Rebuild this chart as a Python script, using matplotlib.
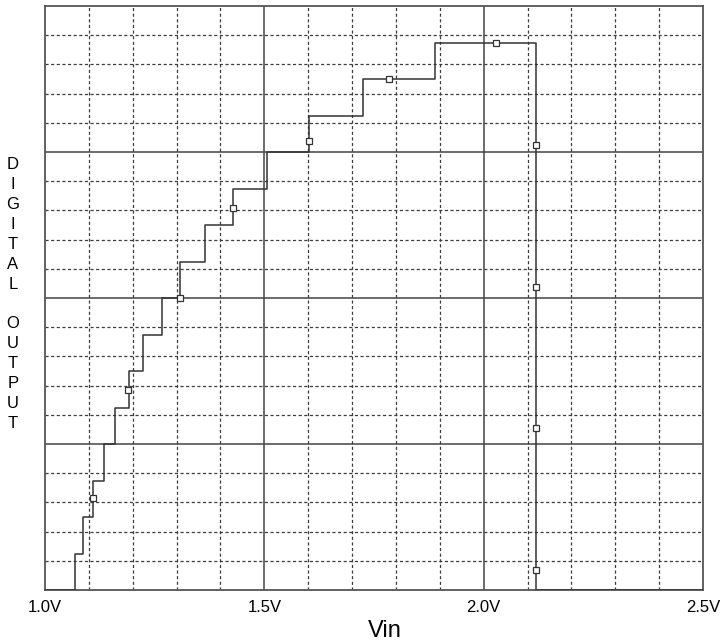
import matplotlib
matplotlib.use("Agg")
import matplotlib.pyplot as plt
import numpy as np

# ADC transfer curve: code steps vs input voltage
vin_steps = [1.0, 1.0683, 1.0872, 1.1093, 1.1336, 1.1600, 1.1912, 1.2242,
             1.2656, 1.3073, 1.3642, 1.4286, 1.5053, 1.6021, 1.7255,
             1.8900, 2.1188, 2.5]
codes = [0, 1, 2, 3, 4, 5, 6, 7, 8, 9, 10, 11, 12, 13, 14, 15, 0, 0]

# trace markers
marker_vin = [1.1093, 1.1890, 1.3073, 1.4280, 1.6015, 1.7853, 2.0289,
              2.1198, 2.1198, 2.1198, 2.1198]
marker_code = [2.52, 5.48, 8.0, 10.47, 12.30, 14.0, 15.0,
               12.19, 8.30, 4.44, 0.55]

x_ticks = [1.0, 1.5, 2.0, 2.5]
x_tick_labels = ["1.0V", "1.5V", "2.0V", "2.5V"]
y_label = "DIGITAL OUTPUT"

plt.rcParams['font.family'] = ['Liberation Sans', 'DejaVu Sans']

fig = plt.figure(figsize=(7.25, 6.44), dpi=100)
ax = fig.add_axes([45 / 725, 54 / 644, 658 / 725, 584 / 644])
ax.set_xlim(1.0, 2.5)
ax.set_ylim(0, 16)

grid_col = "#3c3c3c"
# minor dashed grid
for xv in np.arange(1.1, 2.45, 0.1):
    if abs(xv - 1.5) < 1e-6 or abs(xv - 2.0) < 1e-6:
        continue
    ax.axvline(xv, color=grid_col, lw=0.9, ls=(0, (2.5, 2)), zorder=1)
for yv in np.arange(0.8, 16, 0.8):
    if min(abs(yv - m) for m in (4, 8, 12)) < 1e-6:
        continue
    ax.axhline(yv, color=grid_col, lw=0.9, ls=(0, (2.5, 2)), zorder=1)
# major solid grid
for xv in (1.5, 2.0):
    ax.axvline(xv, color="#444444", lw=1.1, zorder=1)
for yv in (4, 8, 12):
    ax.axhline(yv, color="#444444", lw=1.1, zorder=1)

ax.step(vin_steps, codes, where="post", color="#333333", lw=1.1, zorder=3)
ax.plot(marker_vin, marker_code, ls="none", marker="s", ms=4.5,
        mfc="white", mec="#333333", mew=0.9, zorder=4)

for s in ax.spines.values():
    s.set_color("#555555")
    s.set_linewidth(1.3)

ax.set_xticks(x_ticks)
ax.set_xticklabels(x_tick_labels, fontsize=12)
ax.tick_params(axis="x", length=0, pad=7)
ax.set_yticks([])

fig.text(385 / 725, 1 - 631 / 644, "Vin", fontsize=17, ha="center", va="center")
fig.text(13 / 725, 1 - 294 / 644, "\n".join(y_label), fontsize=12,
         ha="center", va="center", linespacing=1.41)

fig.savefig("out.png", dpi=100)
